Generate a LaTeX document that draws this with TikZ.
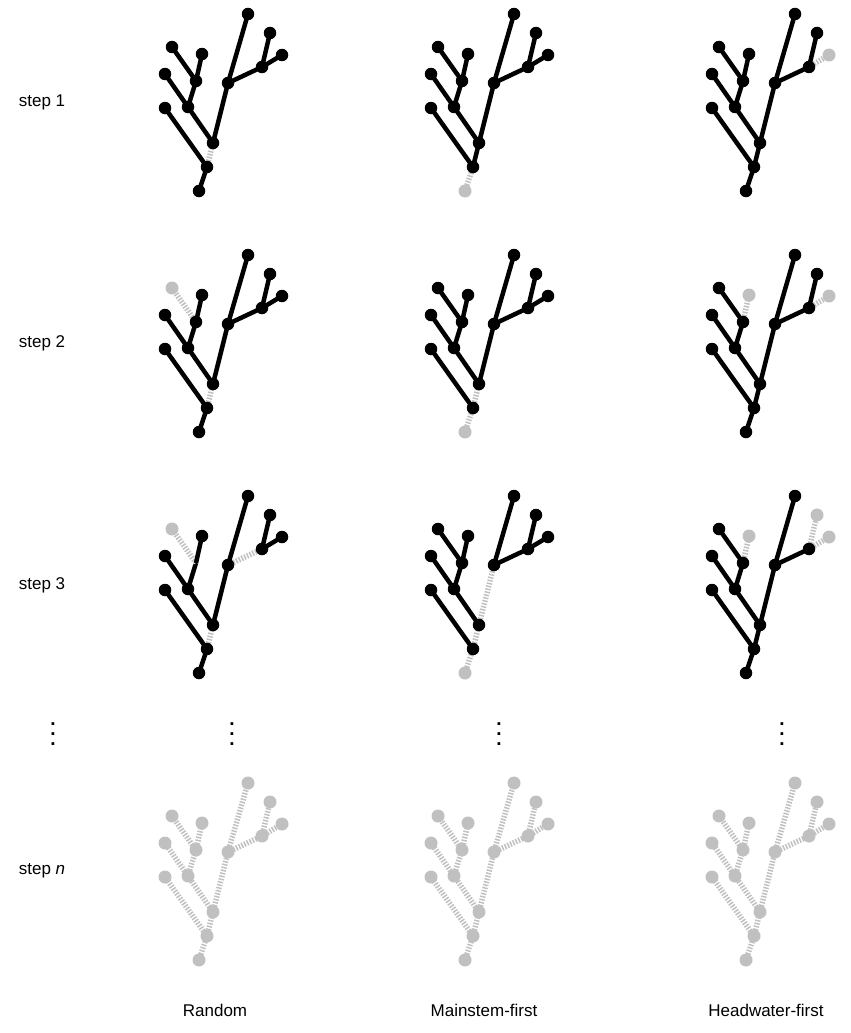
\documentclass[tikz,border=0pt]{standalone}
\usepackage{fontspec}
\setmainfont{Liberation Sans}
\definecolor{gr}{RGB}{192,192,192}
\tikzset{
  blk/.style={line width=4.5pt, draw=black},
  gry/.style={line width=5.5pt, draw=gr, dash pattern=on 1.5pt off 1.5pt},
  bdot/.style={circle, fill=black, inner sep=0pt, minimum size=12.5pt},
  gdot/.style={circle, fill=gr, inner sep=0pt, minimum size=13pt},
  hid/.style={fill=none, draw=none},
  allgrey/.style={blk/.style={gry}, bdot/.style={circle, fill=gr, inner sep=0pt, minimum size=13pt}},
  lab/.style={font=\fontsize{17}{20}\selectfont, inner sep=0pt},
  vd/.style={font=\bfseries\fontsize{19}{20}\selectfont, inner sep=0pt, anchor=base,
             text height=3pt, text depth=0pt},
}
\newcommand\treepanel[4]{%
  \begin{scope}[shift={(#2,#3)}]
    \coordinate (#1-R) at (199,191);
    \coordinate (#1-J1) at (207,167);
    \coordinate (#1-J2) at (213,143);
    \coordinate (#1-L3) at (165,108);
    \coordinate (#1-J3) at (188,107);
    \coordinate (#1-L2) at (165,74);
    \coordinate (#1-J4) at (196,81);
    \coordinate (#1-L1) at (172,47);
    \coordinate (#1-LB) at (202,54);
    \coordinate (#1-J5) at (228,83);
    \coordinate (#1-T) at (248,14);
    \coordinate (#1-J6) at (262,67);
    \coordinate (#1-RA) at (270,33);
    \coordinate (#1-RB) at (282,55);
  \end{scope}
  \begin{scope}[#4]
    \foreach \a/\b in {R/J1,J1/L3,J1/J2,J2/J3,J2/J5,J3/L2,J3/J4,J4/L1,J4/LB,J5/T,J5/J6,J6/RA,J6/RB}{%
      \edef\tmp{\noexpand\draw[blk,e\a\b/.try] (#1-\a) -- (#1-\b);}\tmp}
    \foreach \n in {R,J1,J2,L3,J3,L2,J4,L1,LB,J5,T,J6,RA,RB}{%
      \edef\tmp{\noexpand\node[bdot,n\n/.try] (#1-n\n) at (#1-\n) {};}\tmp}
  \end{scope}}
\newcommand\vdotsat[2]{%
  \node[vd] (#1a) at (#2,725.5) {.};
  \node[vd] (#1b) at (#2,735.5) {.};
  \node[vd] (#1c) at (#2,745.5) {.};}
\begin{document}
\begin{tikzpicture}[x=1pt,y=-1pt]
\useasboundingbox (0,0) rectangle (851,1033);
% Random
\treepanel{ra1}{0}{0}{eJ1J2/.style=gry}
\treepanel{ra2}{0}{241}{eJ1J2/.style=gry, eJ4L1/.style=gry, nL1/.style=gdot}
\treepanel{ra3}{0}{482}{eJ1J2/.style=gry, eJ4L1/.style=gry, nL1/.style=gdot, eJ5J6/.style=gry, nJ4/.style=hid}
\treepanel{ran}{0}{769}{allgrey}
% Mainstem-first
\treepanel{mf1}{266}{0}{eRJ1/.style=gry, nR/.style=gdot}
\treepanel{mf2}{266}{241}{eRJ1/.style=gry, nR/.style=gdot, eJ1J2/.style=gry}
\treepanel{mf3}{266}{482}{eRJ1/.style=gry, nR/.style=gdot, eJ1J2/.style=gry, eJ2J5/.style=gry}
\treepanel{mfn}{266}{769}{allgrey}
% Headwater-first
\treepanel{hf1}{547}{0}{eJ6RB/.style=gry, nRB/.style=gdot}
\treepanel{hf2}{547}{241}{eJ6RB/.style=gry, nRB/.style=gdot, eJ4LB/.style=gry, nLB/.style=gdot}
\treepanel{hf3}{547}{482}{eJ6RB/.style=gry, nRB/.style=gdot, eJ4LB/.style=gry, nLB/.style=gdot, eJ6RA/.style=gry, nRA/.style=gdot}
\treepanel{hfn}{547}{769}{allgrey}
% labels
\node[lab] (s1) at (42,102) {step 1};
\node[lab] (s2) at (42,343) {step 2};
\node[lab] (s3) at (42,585) {step 3};
\node[lab] (sn) at (42,871) {step \textit{n}};
\vdotsat{d0}{53}
\vdotsat{d1}{232}
\vdotsat{d2}{499}
\vdotsat{d3}{782}
\node[lab] (c1) at (215,1010) {Random};
\node[lab] (c2) at (484,1010) {Mainstem-first};
\node[lab] (c3) at (766,1010) {Headwater-first};
\end{tikzpicture}
\end{document}
